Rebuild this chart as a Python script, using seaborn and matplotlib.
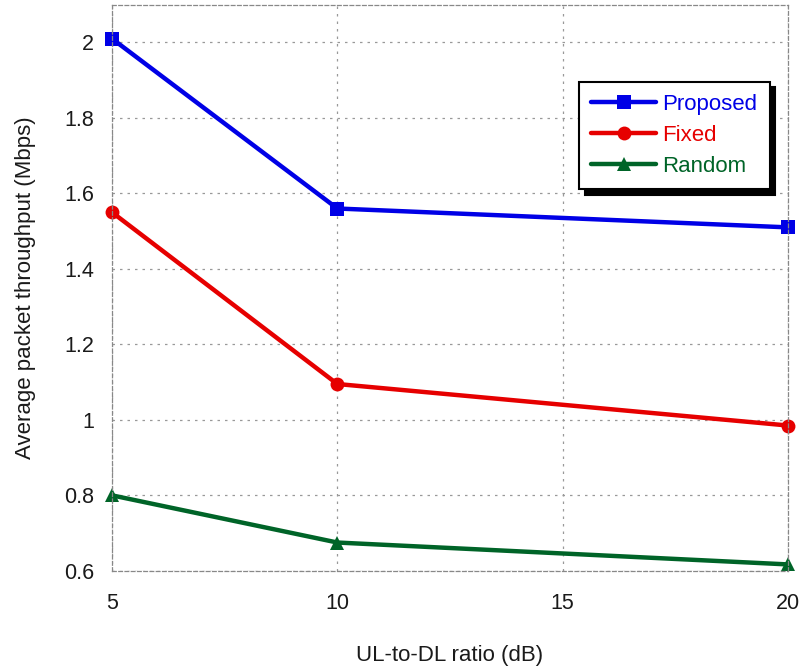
import matplotlib
matplotlib.use("Agg")
import matplotlib.pyplot as plt
import seaborn as sns
import pandas as pd

ratios = [5, 10, 20]
proposed = [2.01, 1.56, 1.51]
fixed = [1.55, 1.095, 0.985]
random_sel = [0.80, 0.675, 0.617]
series_names = ["Proposed", "Fixed", "Random"]
series_colors = ["#0000e6", "#e60000", "#006428"]
series_markers = ["s", "o", "^"]
x_ticks = [5, 10, 15, 20]
y_ticks = [0.6, 0.8, 1.0, 1.2, 1.4, 1.6, 1.8, 2.0]
y_tick_labels = ["0.6", "0.8", "1", "1.2", "1.4", "1.6", "1.8", "2"]

sns.set_theme(style="white")
plt.rcParams["font.family"] = ["Liberation Sans", "DejaVu Sans"]
plt.rcParams["text.color"] = "#1a1a1a"
plt.rcParams["axes.labelcolor"] = "#1a1a1a"
plt.rcParams["xtick.color"] = "#1a1a1a"
plt.rcParams["ytick.color"] = "#1a1a1a"

df = pd.DataFrame({
    "ratio": ratios * 3,
    "throughput": proposed + fixed + random_sel,
    "scheme": [n for n in series_names for _ in ratios],
})

fig = plt.figure(figsize=(8, 6.7), dpi=100)
ax = fig.add_axes([0.14, 0.148, 0.845, 0.845])

sns.lineplot(data=df, x="ratio", y="throughput", hue="scheme", style="scheme",
             hue_order=series_names, style_order=series_names,
             palette=series_colors, markers=series_markers, dashes=False,
             linewidth=3.2, markersize=10, markeredgewidth=0, ax=ax)
for line in ax.lines:
    line.set_clip_on(False)

ax.set_xlim(5, 20)
ax.set_ylim(0.6, 2.1)
ax.set_xticks(x_ticks)
ax.set_yticks(y_ticks)
ax.set_yticklabels(y_tick_labels)
ax.tick_params(axis="x", labelsize=15.5, pad=16, length=0)
ax.tick_params(axis="y", labelsize=15.5, pad=13, length=0)
ax.grid(True, linestyle=(0, (2, 4)), color="#999999", linewidth=0.9)
for s in ax.spines.values():
    s.set_color("#888888")
    s.set_linewidth(0.9)
    s.set_linestyle((0, (3, 2)))

ax.set_xlabel("UL-to-DL ratio (dB)", fontsize=16, labelpad=22)
ax.set_ylabel("Average packet throughput (Mbps)", fontsize=16, labelpad=20)

leg = ax.legend(loc="upper right", bbox_to_anchor=(0.973, 0.864), borderaxespad=0,
                fontsize=16, frameon=True, fancybox=False,
                shadow={"color": "black", "alpha": 1, "ox": 4, "oy": -4},
                edgecolor="black", handlelength=2.9, borderpad=0.55,
                labelspacing=0.45, handletextpad=0.3)
leg.get_frame().set_linewidth(1.5)
for text, c in zip(leg.get_texts(), series_colors):
    text.set_color(c)

fig.savefig("out.png", dpi=100)
